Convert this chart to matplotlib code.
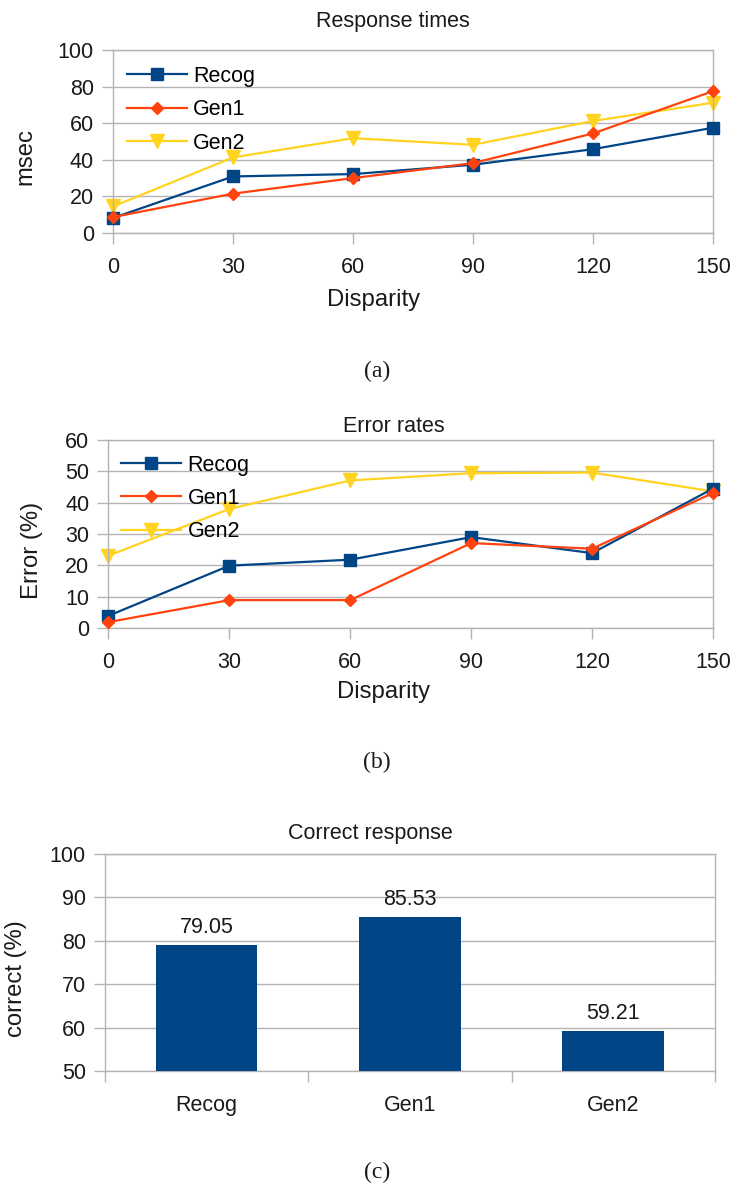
import matplotlib
matplotlib.use("Agg")
import matplotlib.pyplot as plt

# disparity levels shared by the two line charts
disparity = [0, 30, 60, 90, 120, 150]

# response times (msec)
rt_recog = [8.2, 30.9, 32.2, 37.3, 45.8, 57.5]
rt_gen1 = [8.7, 21.5, 30.0, 38.2, 54.4, 77.5]
rt_gen2 = [14.5, 41.3, 51.8, 48.2, 61.2, 71.2]

# error rates (%)
err_recog = [3.9, 19.9, 21.8, 29.0, 23.9, 44.5]
err_gen1 = [1.9, 8.9, 8.9, 27.1, 25.3, 43.1]
err_gen2 = [23.1, 38.0, 47.1, 49.4, 49.6, 43.6]

# correct response (%)
conditions = ["Recog", "Gen1", "Gen2"]
correct = [79.05, 85.53, 59.21]

plt.rcParams['font.family'] = ['Liberation Sans', 'DejaVu Sans']

W, H = 734, 1184
C_RECOG = '#004586'
C_GEN1 = '#ff420e'
C_GEN2 = '#ffd320'
GRID = '#b3b3b3'
INK = '#1a1a1a'
TICK_FS = 15.5
LABEL_FS = 17.2

fig = plt.figure(figsize=(W / 100, H / 100), dpi=100)


def px_axes(left, top, right, bottom):
    return fig.add_axes([left / W, 1 - bottom / H, (right - left) / W, (bottom - top) / H])


def fig_text(x, y, s, **kw):
    # place text using pixel coordinates measured from the top-left corner
    return fig.text(x / W, 1 - y / H, s, color=INK, **kw)


def style_axes(ax):
    for s in ax.spines.values():
        s.set_color(GRID)
        s.set_linewidth(1)
    ax.grid(axis='y', color=GRID, linewidth=1)
    ax.set_axisbelow(True)
    ax.tick_params(axis='both', length=8, width=1, color=GRID,
                   labelsize=TICK_FS, labelcolor=INK)
    ax.tick_params(axis='y', pad=5.8)
    ax.tick_params(axis='x', pad=9.5)


def line_panel(ax, recog, gen1, gen2, ymax, legend_xy):
    ax.plot(disparity, recog, color=C_RECOG, lw=1.6, marker='s', ms=8.8,
            label='Recog', clip_on=False, zorder=3)
    ax.plot(disparity, gen1, color=C_GEN1, lw=1.6, marker='D', ms=6.3,
            label='Gen1', clip_on=False, zorder=4)
    ax.plot(disparity, gen2, color=C_GEN2, lw=1.6, marker='v', ms=10,
            label='Gen2', clip_on=False, zorder=2)
    ax.set_xlim(0, 150)
    ax.set_ylim(0, ymax)
    ax.set_xticks(disparity)
    style_axes(ax)
    ax.legend(loc='upper left', frameon=False, fontsize=TICK_FS,
              handlelength=2.8, handletextpad=0.3, labelspacing=0.58,
              borderpad=0, borderaxespad=0,
              bbox_to_anchor=(legend_xy[0] / W, 1 - legend_xy[1] / H),
              bbox_transform=fig.transFigure)


# (a) response times
ax_a = px_axes(113, 50, 713, 233)
line_panel(ax_a, rt_recog, rt_gen1, rt_gen2, 100, (126.5, 66))
ax_a.set_yticks(range(0, 101, 20))
fig_text(393, 27, 'Response times', ha='center', va='baseline', fontsize=TICK_FS)
fig_text(373.5, 306, 'Disparity', ha='center', va='baseline', fontsize=LABEL_FS)
fig_text(31, 156.5, 'msec', ha='center', va='baseline', rotation=90,
         rotation_mode='anchor', fontsize=LABEL_FS)

# (b) error rates
ax_b = px_axes(108.5, 440, 713, 628)
line_panel(ax_b, err_recog, err_gen1, err_gen2, 60, (120.8, 454.5))
ax_b.set_yticks(range(0, 61, 10))
fig_text(393.5, 432, 'Error rates', ha='center', va='baseline', fontsize=TICK_FS)
fig_text(384, 698, 'Disparity', ha='center', va='baseline', fontsize=LABEL_FS)
fig_text(38, 550, 'Error (%)', ha='center', va='baseline', rotation=90,
         rotation_mode='anchor', fontsize=LABEL_FS)

# (c) correct response
ax_c = px_axes(105, 854, 715, 1071)
pos = list(range(len(conditions)))
ax_c.bar(pos, correct, width=0.5, color=C_RECOG, zorder=3)
for p, v in zip(pos, correct):
    ax_c.annotate('%.2f' % v, (p, v), xytext=(0, 8.6), textcoords='offset points',
                  ha='center', va='baseline', fontsize=TICK_FS, color=INK)
ax_c.set_xlim(-0.5, len(conditions) - 0.5)
ax_c.set_ylim(50, 100)
ax_c.set_yticks(range(50, 101, 10))
ax_c.set_xticks([p - 0.5 for p in pos] + [pos[-1] + 0.5])
ax_c.set_xticklabels([])
ax_c.set_xticks(pos, minor=True)
ax_c.set_xticklabels(conditions, minor=True)
style_axes(ax_c)
ax_c.tick_params(axis='x', which='minor', length=0, pad=17.5,
                 labelsize=TICK_FS, labelcolor=INK)
fig_text(370, 839, 'Correct response', ha='center', va='baseline', fontsize=TICK_FS)
fig_text(22, 979, 'correct (%)', ha='center', va='baseline', rotation=90,
         rotation_mode='anchor', fontsize=LABEL_FS)

# panel captions
for label, y in [('(a)', 371), ('(b)', 762), ('(c)', 1172)]:
    fig_text(377, y, label, ha='center', va='center',
             fontsize=17, family=['Liberation Serif', 'DejaVu Serif'])

fig.savefig('out.png', dpi=100)
